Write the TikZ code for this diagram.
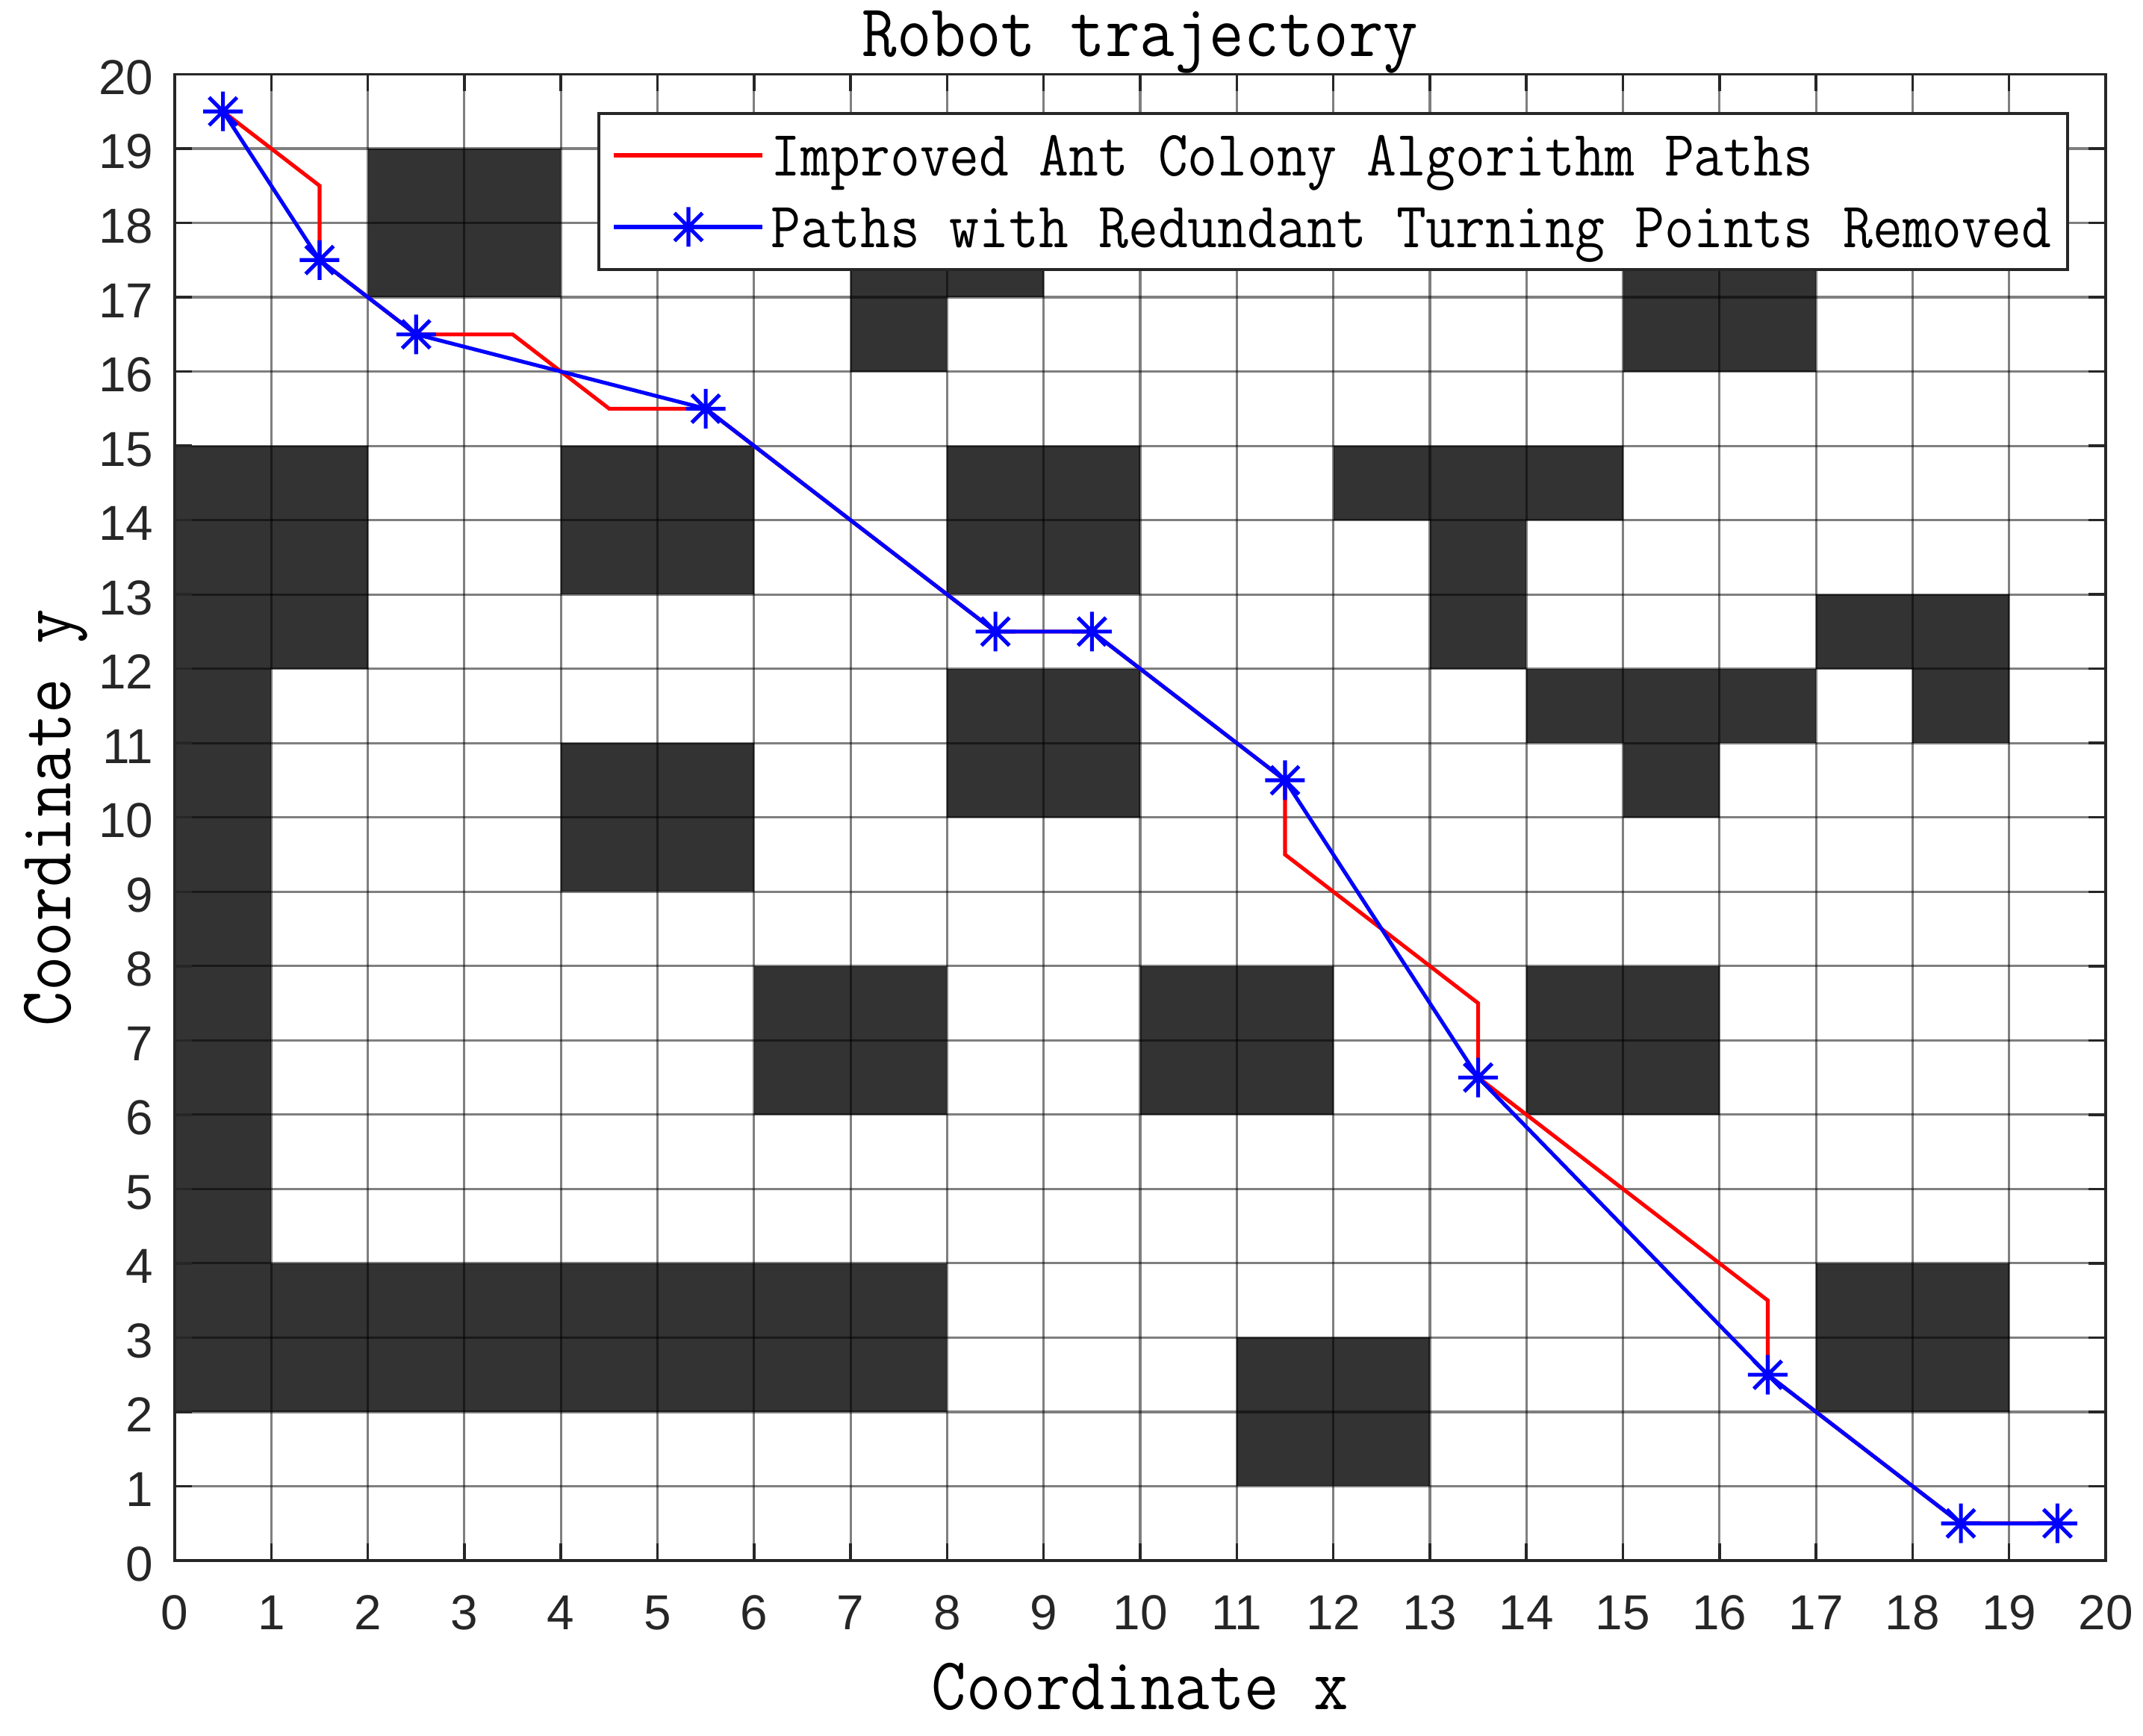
\documentclass[tikz,border=0pt]{standalone}
\usepackage{fontspec}
\usepackage{graphicx}
\newfontfamily\tickfont{Liberation Sans}
\definecolor{axgray}{RGB}{38,38,38}
\definecolor{obst}{RGB}{51,51,51}
\definecolor{pathred}{RGB}{255,0,0}
\definecolor{pathblue}{RGB}{0,0,255}
\tikzset{
  gridline/.style={black, opacity=0.5, line width=0.9pt},
  obstacle/.style={fill=obst},
  axbox/.style={axgray, line width=1pt},
  tickmark/.style={axgray, line width=1pt},
  redpath/.style={pathred, line width=1.45pt},
  bluepath/.style={pathblue, line width=1.45pt},
  ticklab/.style={inner sep=0pt, text=axgray, font=\tickfont\fontsize{18.7pt}{20pt}\selectfont},
  biglab/.style={inner sep=0pt, text=black, font=\ttfamily\fontsize{28.4pt}{30pt}\selectfont},
  leglab/.style={inner sep=0pt, text=black, font=\ttfamily\fontsize{24.7pt}{26pt}\selectfont},
  legbox/.style={fill=white, draw=axgray, line width=1pt},
  ast/.pic={\draw[pathblue, line width=1.45pt]
     (-0.265cm,0) -- (0.265cm,0) (0,-0.265cm) -- (0,0.265cm)
     (-0.187cm,-0.187cm) -- (0.187cm,0.187cm) (-0.187cm,0.187cm) -- (0.187cm,-0.187cm);}
}
\begin{document}
\begin{tikzpicture}[x=1.293cm, y=0.99525cm]
\useasboundingbox (-2.34cm,-2.34cm) rectangle (26.36cm,20.90cm);
\fill[white] (-2.34cm,-2.34cm) rectangle (26.36cm,20.90cm);

% obstacles
\foreach \a/\b/\c/\d in {2/17/4/19, 7/16/8/18, 8/17/9/18, 15/16/17/18,
  0/12/2/15, 4/13/6/15, 8/13/10/15, 12/14/15/15, 13/12/14/14,
  17/12/19/13, 0/2/1/12, 8/10/10/12, 14/11/17/12, 18/11/19/13,
  4/9/6/11, 15/10/16/11, 6/6/8/8, 10/6/12/8, 14/6/16/8,
  0/2/8/4, 17/2/19/4, 11/1/13/3}
  \fill[obstacle] (\a,\b) rectangle (\c,\d);

% grid
\foreach \i in {1,...,19} {
  \draw[gridline] (\i,0) -- (\i,20);
  \draw[gridline] (0,\i) -- (20,\i);
}

% path points
\coordinate (b1) at (0.5,19.5);
\coordinate (b2) at (1.5,17.5);
\coordinate (b3) at (2.5,16.5);
\coordinate (b4) at (5.5,15.5);
\coordinate (b5) at (8.5,12.5);
\coordinate (b6) at (9.5,12.5);
\coordinate (b7) at (11.5,10.5);
\coordinate (b8) at (13.5,6.5);
\coordinate (b9) at (16.5,2.5);
\coordinate (b10) at (18.5,0.5);
\coordinate (b11) at (19.5,0.5);
\coordinate (r1) at (1.5,18.5);
\coordinate (r2) at (3.5,16.5);
\coordinate (r3) at (4.5,15.5);
\coordinate (r4) at (11.5,9.5);
\coordinate (r5) at (13.5,7.5);
\coordinate (r6) at (16.5,3.5);

% red path
\draw[redpath] (b1) -- (r1) -- (b2) -- (b3) -- (r2) -- (r3) -- (b4) -- (b5) -- (b6)
  -- (b7) -- (r4) -- (r5) -- (b8) -- (r6) -- (b9) -- (b10) -- (b11);

% blue path
\draw[bluepath] (b1) -- (b2) -- (b3) -- (b4) -- (b5) -- (b6) -- (b7) -- (b8)
  -- (b9) -- (b10) -- (b11);
\foreach \p in {b1,b2,b3,b4,b5,b6,b7,b8,b9,b10,b11}
  \pic at (\p) {ast};

% axes box and ticks
\draw[axbox] (0,0) rectangle (20,20);
\foreach \i in {0,...,20} {
  \draw[tickmark] (\i,0) -- ++(0,0.23cm);
  \draw[tickmark] (\i,20) -- ++(0,-0.23cm);
  \draw[tickmark] (0,\i) -- ++(0.23cm,0);
  \draw[tickmark] (20,\i) -- ++(-0.23cm,0);
  \node[ticklab, anchor=base, yshift=-0.92cm] (xt\i) at (\i,0) {\i};
  \node[ticklab, anchor=base east, xshift=-0.28cm, yshift=-0.27cm] (yt\i) at (0,\i) {\i};
}

% title and axis labels
\node[biglab, anchor=base] (title) at (12.93cm,20.14cm) {\scalebox{0.905}[1]{Robot trajectory}};
\node[biglab, anchor=base] (xlabel) at (12.93cm,-1.99cm) {\scalebox{0.905}[1]{Coordinate x}};
\node[biglab, anchor=base, rotate=90] (ylabel) at (-1.39cm,9.95cm) {\scalebox{0.905}[1]{Coordinate y}};

% legend
\draw[legbox] (5.68cm,17.29cm) rectangle (25.35cm,19.38cm);
\coordinate (lr1) at (5.88cm,18.82cm);
\coordinate (lr2) at (7.87cm,18.82cm);
\coordinate (lb1) at (5.88cm,17.86cm);
\coordinate (lb2) at (7.87cm,17.86cm);
\coordinate (lbm) at (6.88cm,17.86cm);
\draw[redpath] (lr1) -- (lr2);
\draw[bluepath] (lb1) -- (lb2);
\pic at (lbm) {ast};
\node[leglab, anchor=base west] (leg1) at (7.98cm,18.54cm) {\scalebox{0.892}[1]{Improved Ant Colony Algorithm Paths}};
\node[leglab, anchor=base west] (leg2) at (7.98cm,17.58cm) {\scalebox{0.892}[1]{Paths with Redundant Turning Points Removed}};
\end{tikzpicture}
\end{document}
